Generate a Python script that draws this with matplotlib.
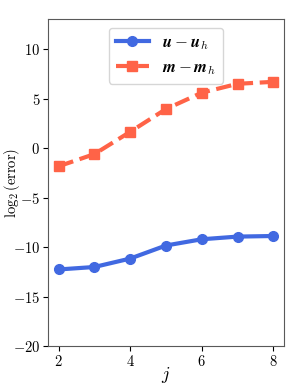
import matplotlib
matplotlib.use("Agg")
import matplotlib.pyplot as plt

plt.rcParams['mathtext.fontset'] = 'cm'
plt.rcParams['font.family'] = 'serif'
plt.rcParams['font.serif'] = ['cmr10', 'DejaVu Serif']
plt.rcParams['axes.formatter.use_mathtext'] = True

j = [2, 3, 4, 5, 6, 7, 8]
err_u = [-12.25, -12.0, -11.15, -9.83, -9.2, -8.93, -8.87]
err_m = [-1.83, -0.6, 1.65, 3.95, 5.6, 6.5, 6.7]

fig, ax = plt.subplots(figsize=(2.99, 3.89), dpi=100)
ax.plot(j, err_u, '-o', color='royalblue', lw=3, ms=7,
        label=r'$\mathbfit{u}-\mathbfit{u}_h$')
ax.plot(j, err_m, '--s', color='tomato', lw=3, ms=7,
        label=r'$\mathbfit{m}-\mathbfit{m}_h$')
ax.set_ylim(-20, 13)
ax.set_xticks([2, 4, 6, 8])
ax.set_yticks([-20, -15, -10, -5, 0, 5, 10])
ax.tick_params(labelsize=10.5, pad=2)
ax.set_xlabel(r'$j$', fontsize=13)
ax.set_ylabel(r'$\log_2(\mathrm{error})$', fontsize=10.5)
ax.xaxis.set_label_coords(0.5, -0.058)
ax.yaxis.set_label_coords(-0.11, 0.5)
for s in ax.spines.values():
    s.set_color('0.35')
ax.legend(loc='upper center', fontsize=12, handlelength=2.0)
fig.subplots_adjust(left=0.16, right=0.95, bottom=0.11, top=0.95)
fig.savefig('out.png')
